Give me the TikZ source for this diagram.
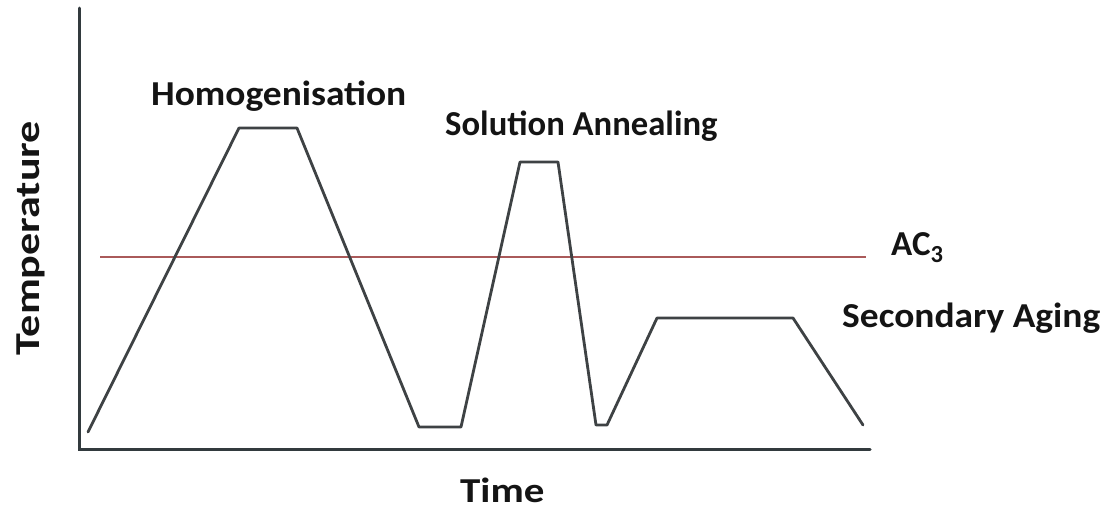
\documentclass[tikz,border=0pt]{standalone}
\usepackage{fontspec}
\setmainfont{Carlito}
\begin{document}
\begin{tikzpicture}[x=1pt,y=-1pt,
  axisline/.style={line width=3pt,draw={rgb,255:red,50;green,58;blue,62},line cap=round},
  cycle/.style={line width=2.8pt,draw={rgb,255:red,62;green,66;blue,68},line join=round,line cap=round},
  acline/.style={line width=2pt,draw={rgb,255:red,170;green,90;blue,90}},
  lbl/.style={font=\fontsize{35}{40}\selectfont\bfseries,text={rgb,255:red,20;green,20;blue,20},inner sep=0pt}]
\useasboundingbox (0,0) rectangle (1107,509);

% axes
\coordinate (yt) at (79,8);
\coordinate (o) at (79,449);
\coordinate (xr) at (870,449);
\draw[axisline] (yt) -- (o) -- (xr);

% critical temperature line
\coordinate (a1) at (100,257);
\coordinate (a2) at (866,257);
\draw[acline] (a1) -- (a2);

% heat-treatment cycle
\coordinate (p0) at (88,432);
\coordinate (p1) at (239,128);
\coordinate (p2) at (297,128);
\coordinate (p3) at (419,427);
\coordinate (p4) at (461,427);
\coordinate (p5) at (520,162);
\coordinate (p6) at (558,162);
\coordinate (p7) at (596,425);
\coordinate (p8) at (607,425);
\coordinate (p9) at (657,318);
\coordinate (p10) at (793,318);
\coordinate (p11) at (863,425);
\draw[cycle] (p0) -- (p1) -- (p2) -- (p3) -- (p4) -- (p5) -- (p6) -- (p7) -- (p8) -- (p9) -- (p10) -- (p11);

% labels
\node[lbl,anchor=base west] (hom) at (151,105) {\scalebox{1.07}[1]{Homogenisation}};
\node[lbl,anchor=base west] (sol) at (445,135) {\scalebox{0.99}[1]{Solution Annealing}};
\node[lbl,anchor=base west] (ac) at (891,255) {AC\textsubscript{3}};
\node[lbl,anchor=base west] (sec) at (842,327) {\scalebox{1.07}[1]{Secondary Aging}};
\node[lbl,anchor=base west] (time) at (460,502) {\scalebox{1.17}[1]{Time}};
\node[lbl,anchor=base,rotate=90] (temp) at (39,238) {\scalebox{1.26}[1]{Temperature}};
\end{tikzpicture}
\end{document}
